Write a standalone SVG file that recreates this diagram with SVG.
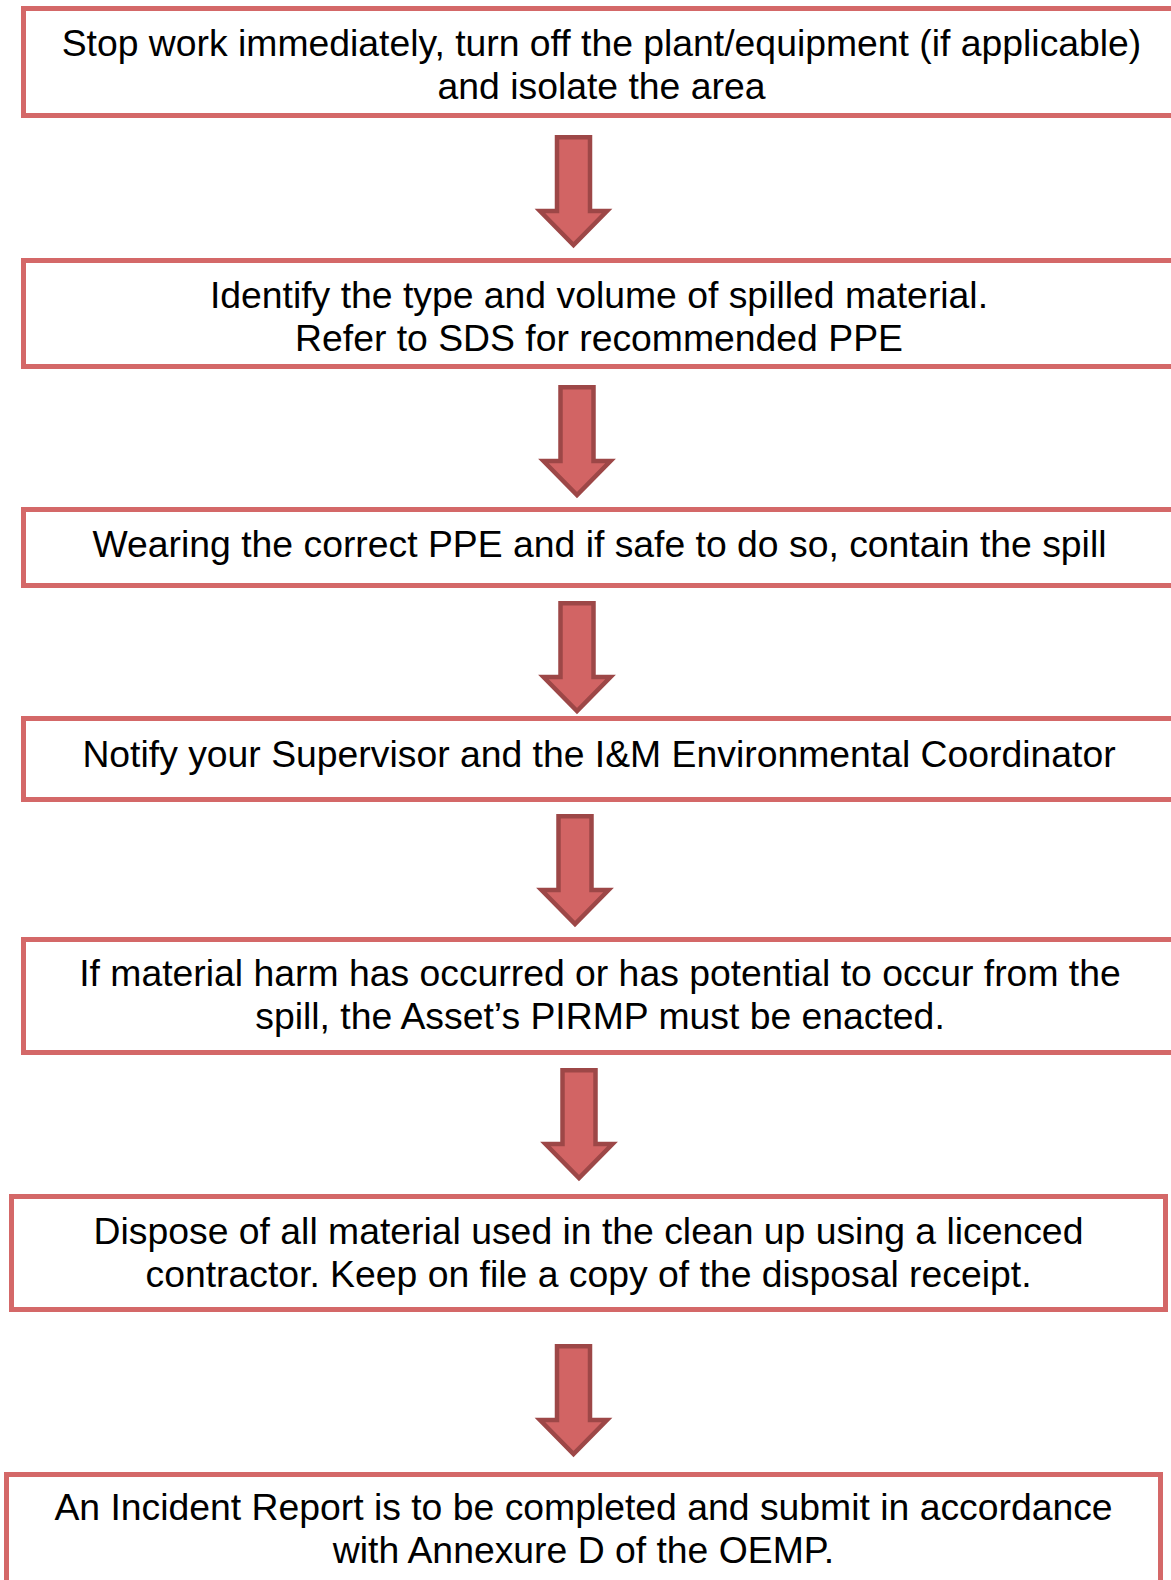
<svg xmlns="http://www.w3.org/2000/svg" width="1171" height="1580" viewBox="0 0 1171 1580">
  <style>
    .box { fill: #ffffff; stroke: #D46868; stroke-width: 5; }
    .txt { font-family: "Liberation Sans", Arial, sans-serif; font-size: 37.33px; fill: #000000; text-anchor: middle; }
    .arr { fill: #D26464; stroke: #9D4747; stroke-width: 4.5; stroke-linejoin: miter; stroke-miterlimit: 10; }
  </style>
  <defs>
    <path id="arrow" class="arr" d="M -16.5,2.25 H 16.5 V 76 H 33.5 L 0,110 L -33.5,76 H -16.5 Z"/>
  </defs>
  <rect x="0" y="0" width="1171" height="1580" fill="#ffffff"/>

  <g id="connectors">
    <use href="#arrow" transform="translate(573.5,135)"/>
    <use href="#arrow" transform="translate(577,385)"/>
    <use href="#arrow" transform="translate(577,601)"/>
    <use href="#arrow" transform="translate(575,814)"/>
    <use href="#arrow" transform="translate(579,1068)"/>
    <use href="#arrow" transform="translate(573.5,1344)"/>
  </g>

  <g id="node1">
    <rect class="box" x="23.5" y="8.5" width="1156" height="107"/>
    <text class="txt" x="601.5" y="56">Stop work immediately, turn off the plant/equipment (if applicable)</text>
    <text class="txt" x="601.5" y="99">and isolate the area</text>
  </g>

  <g id="node2">
    <rect class="box" x="23.5" y="260.5" width="1156" height="106"/>
    <text class="txt" x="599" y="308">Identify the type and volume of spilled material.</text>
    <text class="txt" x="599" y="351">Refer to SDS for recommended PPE</text>
  </g>

  <g id="node3">
    <rect class="box" x="23.5" y="509.5" width="1156" height="76"/>
    <text class="txt" x="599.5" y="557">Wearing the correct PPE and if safe to do so, contain the spill</text>
  </g>

  <g id="node4">
    <rect class="box" x="23.5" y="718.5" width="1156" height="81"/>
    <text class="txt" x="599" y="767">Notify your Supervisor and the I&amp;M Environmental Coordinator</text>
  </g>

  <g id="node5">
    <rect class="box" x="23.5" y="939.5" width="1156" height="113"/>
    <text class="txt" x="600" y="986">If material harm has occurred or has potential to occur from the</text>
    <text class="txt" x="600" y="1029">spill, the Asset’s PIRMP must be enacted.</text>
  </g>

  <g id="node6">
    <rect class="box" x="11.5" y="1196.5" width="1154" height="113"/>
    <text class="txt" x="588.5" y="1244">Dispose of all material used in the clean up using a licenced</text>
    <text class="txt" x="588.5" y="1287">contractor. Keep on file a copy of the disposal receipt.</text>
  </g>

  <g id="node7">
    <rect class="box" x="6.5" y="1474.5" width="1154" height="140"/>
    <text class="txt" x="583.5" y="1520">An Incident Report is to be completed and submit in accordance</text>
    <text class="txt" x="583.5" y="1563">with Annexure D of the OEMP.</text>
  </g>
</svg>
